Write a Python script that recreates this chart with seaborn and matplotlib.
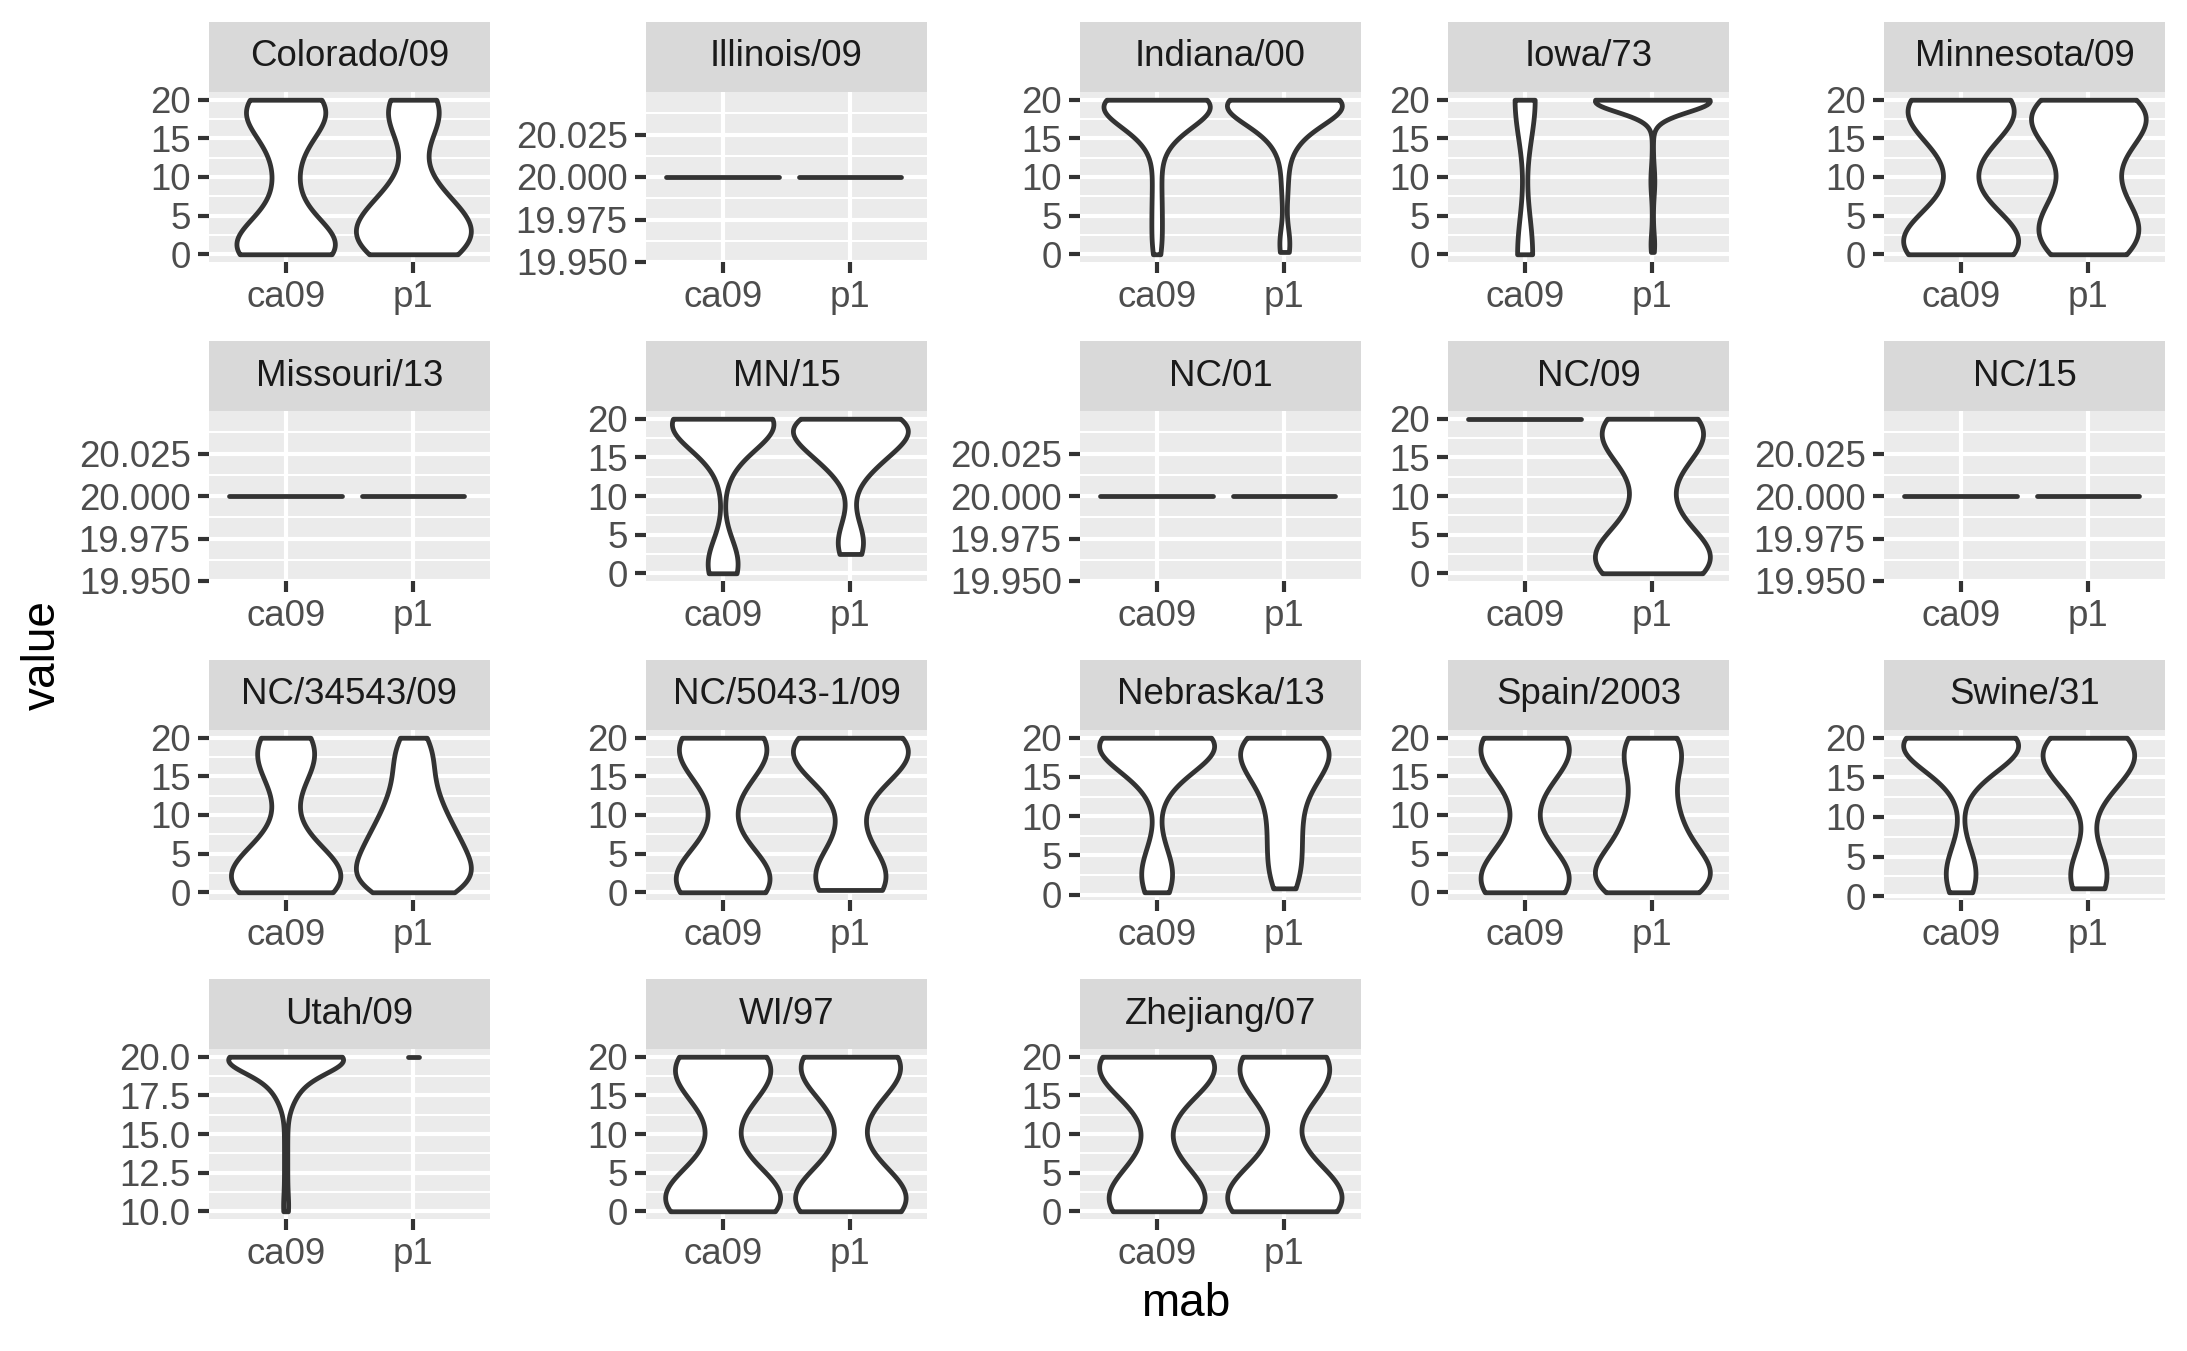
import numpy as np
import pandas as pd
import matplotlib
matplotlib.use("Agg")
import matplotlib.pyplot as plt
from matplotlib.ticker import MaxNLocator
import seaborn as sns

# ---------------- data (value -> count of observations) ----------------
mabs = ["ca09", "p1"]
panels = ["Colorado/09", "Illinois/09", "Indiana/00", "Iowa/73", "Minnesota/09",
          "Missouri/13", "MN/15", "NC/01", "NC/09", "NC/15",
          "NC/34543/09", "NC/5043-1/09", "Nebraska/13", "Spain/2003", "Swine/31",
          "Utah/09", "WI/97", "Zhejiang/07"]

colorado = {
    "ca09": ([0, 1, 2, 3, 4, 6, 8, 10, 11, 13, 15, 16, 17, 18, 19, 20],
             [22, 14, 10, 6, 4, 3, 3, 2, 3, 3, 3, 4, 6, 8, 10, 16]),
    "p1": ([0, 1, 2, 3, 4, 5, 6, 7, 8, 9, 11, 14, 16, 17, 18, 19, 20],
           [5, 5, 5, 4, 4, 3, 3, 2, 2, 1, 1, 1, 1, 2, 2, 3, 4]),
}
illinois = {"ca09": ([20], [40]), "p1": ([20], [27])}
indiana = {
    "ca09": ([0, 1, 2, 3.5, 5, 6, 7.5, 9, 10.5, 12, 14, 15, 16, 17, 18, 19, 20],
             [1, 1, 1, 1, 1, 1, 1, 1, 1, 1, 1, 2, 4, 5, 7, 8, 26]),
    "p1": ([0.3, 1, 1.5, 2.5, 7, 9, 11, 13, 14, 15, 16, 17, 18, 19, 20],
           [1, 1, 1, 1, 1, 1, 1, 1, 1, 2, 3, 5, 6, 8, 28]),
}
iowa = {
    "ca09": ([0, 20], [12, 16]),
    "p1": ([0.3, 1, 2, 4, 6, 8, 9, 10, 11, 13, 15, 17, 18, 18.5, 19, 19.5, 20],
           [1, 3, 2, 1, 1, 2, 2, 2, 2, 1, 1, 1, 4, 6, 10, 15, 150]),
}
minnesota = {
    "ca09": ([0, 1, 2, 3, 4, 6, 9, 12, 14, 15, 16, 17, 18, 19, 20],
             [8, 6, 6, 5, 3, 1, 1, 1, 1, 1, 2, 3, 4, 6, 10]),
    "p1": ([0, 1, 2, 3, 4, 5, 6, 7, 8, 9, 10, 11, 12, 13, 14, 15, 16, 17, 18, 19, 20],
           [4, 3, 3, 3, 3, 2, 2, 2, 1, 1, 1, 1, 1, 1, 2, 2, 3, 3, 4, 4, 6]),
}
missouri = {"ca09": ([20], [40]), "p1": ([20], [28])}
mn15 = {
    "ca09": ([0, 1, 2, 3, 11, 14, 15, 16, 17, 18, 19, 20],
             [5, 6, 5, 2, 1, 1, 2, 3, 4, 6, 8, 40]),
    "p1": ([2.5, 3, 4, 5, 6, 8, 12, 13, 14, 15, 16, 17, 18, 19, 20],
           [2, 2, 2, 2, 1, 1, 1, 2, 3, 4, 5, 6, 7, 8, 16]),
}
nc01 = {"ca09": ([20], [40]), "p1": ([20], [28])}
nc09 = {
    "ca09": ([20], [30]),
    "p1": ([0, 1, 2, 3, 4, 5, 7, 9, 11, 13, 15, 16, 17, 18, 19, 20],
           [7, 6, 5, 5, 3, 2, 2, 2, 1, 2, 2, 3, 3, 4, 5, 8]),
}
nc15 = {"ca09": ([20], [40]), "p1": ([20], [30])}
nc34543 = {
    "ca09": ([0, 1, 2, 3, 4, 5, 6, 8, 10, 12, 14, 15, 16, 17, 18, 19, 20],
             [8, 7, 6, 5, 4, 3, 2, 1, 1, 1, 1, 1, 2, 3, 3, 3, 5]),
    "p1": ([0, 1, 2, 3, 4, 5, 6, 7, 8, 9, 10, 11, 12, 13, 14, 15, 16, 17, 18, 19, 20],
           [8, 7, 7, 6, 6, 5, 5, 5, 4, 4, 3, 3, 3, 2, 2, 2, 2, 2, 2, 2, 3]),
}
nc5043 = {
    "ca09": ([0, 1, 2, 3, 4, 6, 8, 11, 13, 14, 16, 17, 18, 19, 20],
             [8, 6, 6, 5, 3, 1, 1, 1, 1, 1, 3, 3, 4, 6, 10]),
    "p1": ([0.3, 1, 2, 3, 4, 5, 7, 10, 12, 14, 15, 16, 17, 18, 19, 20],
           [4, 4, 4, 3, 2, 1, 1, 1, 1, 1, 2, 3, 4, 5, 7, 9]),
}
nebraska = {
    "ca09": ([0.3, 1, 2, 3, 4, 5, 8, 13, 14, 15, 16, 17, 18, 19, 20],
             [2, 2, 3, 3, 2, 2, 1, 1, 1, 2, 4, 5, 7, 8, 26]),
    "p1": ([0.8, 1.5, 2.5, 3.5, 4.5, 5.5, 6.5, 7.5, 8.5, 9.5, 10.5, 11.5, 12.5,
            14, 15, 16, 17, 18, 19, 20],
           [2, 1, 2, 1, 2, 1, 2, 1, 2, 1, 2, 1, 2, 3, 3, 4, 4, 4, 5, 10]),
}
spain = {
    "ca09": ([0, 1, 2, 3, 4, 6, 8, 11, 13, 14, 16, 17, 18, 19, 20],
             [7, 6, 5, 5, 3, 1, 1, 1, 1, 1, 3, 3, 4, 6, 10]),
    "p1": ([0, 1, 2, 3, 4, 5, 6, 7, 8, 9, 10, 11, 12, 13, 14, 15, 16, 17, 18, 19, 20],
           [8, 6, 6, 5, 4, 3, 3, 2, 2, 2, 2, 2, 2, 1, 1, 1, 2, 2, 3, 3, 5]),
}
swine = {
    "ca09": ([0.5, 1.5, 2.5, 3.5, 4.5, 5.5, 7, 14, 15, 16, 17, 18, 19, 20],
             [2, 3, 3, 3, 2, 1, 1, 1, 2, 4, 5, 7, 9, 28]),
    "p1": ([1, 2, 3, 4, 5, 7, 12, 13, 14, 15, 16, 17, 18, 19, 20],
           [4, 4, 3, 2, 2, 1, 1, 2, 3, 4, 5, 6, 6, 6, 12]),
}
utah = {
    "ca09": ([10, 10.5, 11.5, 12.5, 13.5, 14.5, 15.5, 16.5, 17, 17.5, 18, 18.5, 19, 19.5, 20],
             [2, 1, 1, 1, 1, 1, 1, 1, 2, 3, 5, 6, 8, 10, 60]),
    "p1": ([20], [3]),
}
wi97 = {
    "ca09": ([0, 1, 2, 3, 4, 6, 8, 11, 13, 15, 16, 17, 18, 19, 20],
             [8, 6, 6, 5, 3, 1, 1, 1, 1, 2, 2, 3, 4, 5, 8]),
    "p1": ([0, 1, 2, 3, 4, 6, 9, 12, 14, 16, 17, 18, 19, 20],
           [8, 6, 6, 5, 3, 1, 1, 1, 1, 2, 3, 4, 6, 10]),
}
zhejiang = {
    "ca09": ([0, 1, 2, 3, 4, 6, 9, 12, 14, 16, 17, 18, 19, 20],
             [7, 6, 5, 4, 3, 1, 1, 1, 1, 3, 3, 5, 7, 12]),
    "p1": ([0, 1, 2, 3, 4, 7, 13, 16, 17, 18, 19, 20],
           [6, 5, 5, 4, 3, 1, 1, 2, 3, 3, 4, 6]),
}

samples = {
    "Colorado/09": colorado, "Illinois/09": illinois, "Indiana/00": indiana,
    "Iowa/73": iowa, "Minnesota/09": minnesota, "Missouri/13": missouri,
    "MN/15": mn15, "NC/01": nc01, "NC/09": nc09, "NC/15": nc15,
    "NC/34543/09": nc34543, "NC/5043-1/09": nc5043, "Nebraska/13": nebraska,
    "Spain/2003": spain, "Swine/31": swine, "Utah/09": utah, "WI/97": wi97,
    "Zhejiang/07": zhejiang,
}

# ---------------- style ----------------
W, H, DPI = 2187, 1351, 300
PANEL_BG = "#EBEBEB"
STRIP_BG = "#D9D9D9"
EDGE = "#333333"
TICK_TXT = "#4D4D4D"
LW = 1.15
# half-length of the flat line drawn for a group with a single distinct value
degenerate_half = {"Utah/09": {"p1": 0.045}}
DEFAULT_HALF = {"ca09": 0.44, "p1": 0.40}

plt.rcParams["font.family"] = ["Liberation Sans", "DejaVu Sans"]

rows = []
for name, groups in samples.items():
    for m in mabs:
        vals, cnts = groups[m]
        for v, n in zip(vals, cnts):
            rows.extend([(name, m, v)] * n)
df = pd.DataFrame(rows, columns=["strain", "mab", "value"])

fig = plt.figure(figsize=(W / DPI, H / DPI), dpi=DPI)
fig.patch.set_facecolor("white")

col_left = [209, 646, 1080, 1448, 1884]
row_top = [92, 411, 730, 1049]
PW, PH, SH = 281, 170, 70

for k, name in enumerate(panels):
    r, c = divmod(k, 5)
    x0, y0 = col_left[c], row_top[r]
    ax = fig.add_axes([x0 / W, 1 - (y0 + PH) / H, PW / W, PH / H])
    sax = fig.add_axes([x0 / W, 1 - y0 / H, PW / W, SH / H])

    sub = df[df["strain"] == name]
    nuniq = sub.groupby("mab")["value"].nunique()
    deg = [m for m in mabs if nuniq.get(m, 0) == 1]
    nondeg = [m for m in mabs if nuniq.get(m, 0) > 1]

    if nondeg:
        sns.violinplot(data=sub[sub["mab"].isin(nondeg)], x="mab", y="value",
                       order=mabs, cut=0, inner=None, width=0.9,
                       color="white", saturation=1, linecolor=EDGE,
                       linewidth=LW, density_norm="area", ax=ax)
    for m in deg:
        v = sub.loc[sub["mab"] == m, "value"].iloc[0]
        i = mabs.index(m)
        hw = degenerate_half.get(name, {}).get(m, DEFAULT_HALF[m])
        ax.hlines(v, i - hw, i + hw, color=EDGE, linewidth=LW,
                  capstyle="round", zorder=3)

    lo, hi = sub["value"].min(), sub["value"].max()
    if hi == lo:
        span = 0.0025 * abs(lo)
        ylo, yhi = lo - span, hi + span
    else:
        pad = 0.05 * (hi - lo)
        ylo, yhi = lo - pad, hi + pad
    ax.set_ylim(ylo, yhi)
    ax.set_xlim(-0.6, 1.6)

    eps = 1e-7 * max(1.0, abs(yhi))
    allt = MaxNLocator(nbins=6, steps=[1, 2.5, 5, 10]).tick_values(ylo, yhi)
    majors = [t for t in allt if ylo - eps <= t < yhi - eps]
    minors = [(a + b) / 2 for a, b in zip(allt[:-1], allt[1:])]
    minors = [t for t in minors if ylo < t < yhi]
    dec = 0
    while dec < 6 and any(abs(round(t, dec) - t) > 1e-7 for t in majors):
        dec += 1
    ax.set_yticks(majors)
    ax.set_yticklabels([f"{t:.{dec}f}" for t in majors])
    ax.set_yticks(minors, minor=True)
    ax.set_xticks([0, 1])
    ax.set_xticklabels(mabs)

    ax.set_facecolor(PANEL_BG)
    ax.set_axisbelow(True)
    for s in ax.spines.values():
        s.set_visible(False)
    ax.grid(True, which="major", color="white", linewidth=1.0)
    ax.grid(True, which="minor", axis="y", color="white", linewidth=0.5)
    ax.grid(False, which="minor", axis="x")
    ax.tick_params(axis="both", which="major", length=2.6, width=1.0,
                   color=EDGE, labelsize=8.8, labelcolor=TICK_TXT, pad=1.8)
    ax.tick_params(axis="both", which="minor", length=0)
    ax.set_xlabel("")
    ax.set_ylabel("")

    sax.set_facecolor(STRIP_BG)
    sax.set_xticks([])
    sax.set_yticks([])
    for s in sax.spines.values():
        s.set_visible(False)
    sax.text(0.5, 0.5, name, ha="center", va="center", fontsize=8.8,
             color="#1A1A1A", transform=sax.transAxes)

fig.text(43 / W, 1 - 655 / H, "value", rotation=90, ha="center", va="center",
         fontsize=11, color="black")
fig.text(1186 / W, 1 - 1304 / H, "mab", ha="center", va="center",
         fontsize=11, color="black")

fig.savefig("out.png", dpi=DPI)
